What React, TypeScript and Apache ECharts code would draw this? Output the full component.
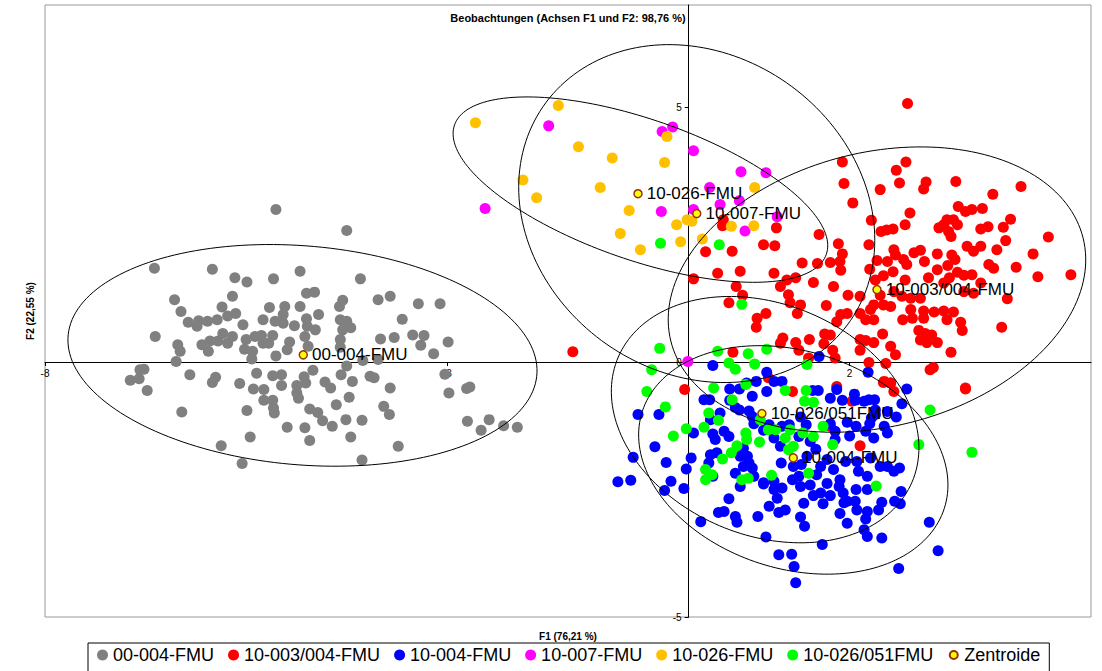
import React, { useEffect, useRef } from "react";
import * as echarts from "echarts";

const FONT = "'Liberation Sans', Arial, sans-serif";

const seriesNames = ["00-004-FMU", "10-003/004-FMU", "10-004-FMU", "10-007-FMU", "10-026-FMU", "10-026/051FMU"];
const seriesColors = ["#808080", "#FF0000", "#0000FF", "#FF00FF", "#FFC000", "#00FF00"];

const grayPoints = [
  [-5.13,2.99],[-4.25,2.58],[-6.64,1.84],[-5.92,1.82],[-5.64,1.65],[-5.49,1.57],[-5.16,1.63],[-4.83,1.78],[-4.08,1.63],
  [-6.39,1.22],[-6.31,0.99],[-5.67,1.29],[-5.80,1.08],[-5.73,0.90],[-5.63,0.95],[-6.22,0.78],[-6.09,0.81],[-6.11,0.70],
  [-5.98,0.80],[-5.86,0.83],[-5.54,0.73],[-5.21,1.07],[-5.02,1.09],[-5.04,0.93],[-4.83,1.09],[-4.75,1.35],[-4.65,1.37],
  [-5.29,0.83],[-5.14,0.80],[-5.04,0.76],[-4.90,0.71],[-4.75,0.85],[-4.74,0.70],[-4.64,0.63],[-4.60,0.93],[-4.30,1.21],
  [-4.34,1.09],[-4.33,0.83],[-4.25,0.80],[-4.20,0.67],[-4.30,0.63],[-3.86,1.22],[-3.71,1.29],[-3.56,0.84],[-3.36,1.14],
  [-3.09,1.14],[-6.63,0.50],[-6.35,0.34],[-6.32,0.21],[-6.37,0.01],[-6.05,0.34],[-5.97,0.21],[-5.95,0.41],[-5.85,0.41],
  [-5.79,0.56],[-5.73,0.37],[-5.67,0.50],[-5.50,0.44],[-5.52,0.25],[-5.42,0.21],[-5.43,0.06],[-5.39,0.50],[-5.31,0.52],
  [-5.29,0.37],[-5.22,0.37],[-5.17,0.52],[-5.13,0.12],[-4.99,0.24],[-4.96,0.39],[-4.77,0.50],[-4.73,0.31],[-4.33,0.44],
  [-4.33,0.29],[-4.05,0.03],[-3.86,0.05],[-3.83,0.45],[-3.66,0.48],[-3.43,0.53],[-3.29,0.52],[-3.33,0.33],[-3.17,0.16],
  [-2.99,0.39],[-6.82,-0.15],[-6.77,-0.14],[-6.94,-0.36],[-6.83,-0.33],[-6.73,-0.56],[-6.20,-0.25],[-5.92,-0.40],
  [-5.88,-0.30],[-5.58,-0.42],[-5.41,-0.53],[-5.37,-0.22],[-5.28,-0.54],[-5.17,-0.27],[-5.06,-0.25],[-5.06,-0.46],
  [-5.28,-0.75],[-5.17,-0.75],[-5.16,-0.90],[-5.15,-1.00],[-5.49,-0.95],[-5.45,-1.47],[-4.99,-1.28],[-6.30,-0.98],
  [-5.81,-1.64],[-5.55,-1.99],[-4.87,-0.46],[-4.78,-0.29],[-4.76,-0.41],[-4.67,-0.16],[-4.87,-0.61],[-4.85,-0.71],
  [-4.71,-0.92],[-4.61,-0.99],[-4.77,-1.29],[-4.71,-1.54],[-4.55,-1.15],[-4.43,-1.26],[-4.52,-0.39],[-4.45,-0.51],
  [-4.38,-0.84],[-4.32,-0.25],[-4.25,-0.08],[-4.18,-0.38],[-4.22,-0.69],[-4.26,-1.13],[-4.06,-1.14],[-4.20,-1.47],
  [-4.06,-1.92],[-3.96,-0.28],[-3.91,-0.31],[-3.71,-0.51],[-3.79,-0.87],[-3.72,-1.03],[-3.61,-1.65],[-3.03,-0.24],
  [-2.98,-0.61],[-2.76,-0.52],[-2.72,-0.49],[-2.75,-1.16],[-2.58,-1.34],[-2.48,-1.13],[-2.30,-1.25],[-2.13,-1.28]
];

const redPoints = [
  [2.72,5.07],[-1.44,0.20],[1.91,3.92],[2.70,3.92],[2.58,3.76],[2.95,3.53],[2.92,3.39],[2.62,3.51],[3.32,3.54],[2.38,3.38],
  [1.93,3.50],[4.13,3.44],[3.78,3.29],[2.04,3.12],[2.75,2.92],[3.35,3.05],[3.52,2.99],[3.65,3.01],[3.44,2.95],
  [3.21,2.79],[3.17,2.69],[3.11,2.63],[3.29,2.79],[3.34,2.69],[3.23,2.56],[3.26,2.46],[4.00,2.80],[3.91,2.64],
  [3.72,2.65],[3.63,2.61],[2.69,2.69],[2.54,2.61],[2.39,2.56],[2.46,2.59],[2.27,2.78],[4.47,2.45],[3.94,2.38],
  [3.83,2.20],[4.28,2.12],[3.46,2.27],[3.63,2.27],[3.54,2.17],[3.27,2.10],[3.31,2.01],[3.09,2.12],[2.88,2.19],
  [2.80,2.14],[2.55,2.20],[2.57,2.10],[2.24,2.30],[2.34,1.99],[2.47,1.97],[2.67,2.01],[2.71,1.91],[2.93,1.97],
  [3.22,1.89],[3.09,1.81],[3.34,1.76],[3.42,1.70],[3.52,1.71],[3.73,1.91],[3.79,1.84],[4.07,1.86],[4.34,1.67],
  [4.75,1.71],[2.25,1.82],[2.42,1.69],[2.54,1.77],[2.69,1.61],[2.32,1.61],[2.98,1.65],[3.17,1.55],[3.24,1.65],
  [3.63,1.55],[3.42,1.38],[3.54,1.35],[3.96,1.24],[3.89,0.68],[2.55,1.38],[2.65,1.29],[2.76,1.25],[2.88,1.25],
  [2.38,1.31],[2.30,1.12],[2.42,1.12],[2.51,1.09],[2.26,1.03],[2.13,1.29],[1.98,1.31],[1.80,1.48],[1.71,1.11],
  [1.89,0.93],[1.97,0.95],[2.13,0.95],[2.20,0.83],[2.30,0.83],[1.84,0.79],[2.76,1.03],[2.66,0.83],[2.78,0.86],
  [2.92,1.00],[2.92,0.86],[3.05,0.98],[3.17,1.00],[3.29,0.98],[3.21,0.83],[3.38,0.78],[3.40,0.62],[2.86,0.62],
  [2.94,0.56],[3.02,0.53],[2.88,0.43],[2.96,0.38],[3.09,0.38],[3.26,0.19],[2.41,0.55],[2.51,0.31],[2.57,0.14],
  [2.45,-0.03],[2.24,-0.01],[2.13,0.44],[2.20,0.42],[2.30,0.38],[2.13,0.23],[1.69,0.55],[1.76,0.53],[1.68,0.36],
  [1.79,0.23],[1.82,0.08],[1.50,0.44],[1.33,0.38],[1.37,0.23],[1.49,0.08],[1.14,0.37],[1.17,0.47],[3.00,-0.15],
  [3.04,-0.11],[3.44,-0.51],[2.43,-0.38],[2.51,-0.41],[1.86,2.32],[1.91,2.12],[1.88,1.97],[1.89,1.80],[1.76,1.95],
  [1.62,2.50],[1.60,1.93],[1.41,1.94],[1.55,1.56],[1.33,1.65],[1.22,1.61],[1.14,1.48],[1.24,1.32],[1.26,1.16],
  [1.39,1.12],[1.35,0.95],[1.06,1.74],[1.09,2.63],[1.07,2.28],[0.93,2.30],[0.64,1.78],[0.36,1.74],[0.54,2.17],
  [0.21,2.16],[0.06,1.63],[0.59,1.48],[0.67,1.31],[0.50,1.16],[0.85,0.86],[0.96,0.95],[0.84,0.68],[0.42,2.67],
  [0.43,2.79],[0.55,0.19],[0.99,-0.31],[-0.05,-0.54],[1.29,-0.58],[1.84,-0.48],[2.03,-0.77],[1.76,-1.26],
  [2.13,-1.64],[2.42,-0.40],[2.51,-0.41],[2.55,-0.58],[3.44,-0.53]
];

const bluePoints = [
  [0.30,-0.07],[0.97,-0.20],[1.06,-0.38],[1.16,-0.38],[0.84,-0.38],[0.72,-0.41],[0.63,-0.53],[0.51,-0.53],[0.79,-0.67],
  [0.97,-0.58],[1.62,0.11],[1.54,-0.56],[1.61,-0.56],[1.84,-0.54],[1.76,-0.71],[1.91,-0.75],[2.06,-0.63],[2.07,-0.75],
  [2.18,-0.77],[2.24,-0.74],[2.31,-0.74],[2.23,-0.20],[2.71,-0.53],[2.65,-0.82],[0.19,-0.74],[0.26,-0.74],[0.51,-0.75],
  [0.58,-0.89],[0.63,-0.94],[0.75,-0.96],[0.39,-1.00],[0.27,-1.13],[-0.37,-1.03],[-0.63,-1.03],[0.06,-1.39],
  [-0.42,-1.66],[-0.69,-1.87],[-0.88,-2.35],[-0.72,-2.32],[-0.28,-1.97],[0.03,-1.88],[-0.03,-2.10],[-0.22,-2.34],
  [-0.30,-2.52],[-0.06,-2.48],[0.30,-1.41],[0.33,-1.52],[0.44,-1.36],[0.50,-1.46],[0.27,-1.82],[0.35,-1.78],
  [0.25,-1.98],[0.30,-2.24],[0.58,-2.18],[0.68,-1.69],[0.64,-1.85],[0.73,-1.85],[0.75,-1.98],[0.79,-2.08],
  [0.68,-2.05],[0.81,-2.24],[0.64,-2.44],[0.93,-2.37],[0.81,-1.21],[0.93,-1.34],[1.00,-1.23],[1.16,-1.26],
  [1.06,-1.49],[1.14,-1.65],[1.37,-1.46],[1.46,-1.23],[1.39,-1.08],[1.51,-1.56],[1.58,-1.71],[1.47,-1.85],
  [1.40,-2.01],[1.30,-2.05],[1.29,-2.31],[1.39,-2.44],[1.51,-2.41],[1.64,-2.05],[1.72,-1.91],[1.82,-1.52],
  [1.82,-1.36],[1.76,-1.21],[1.97,-1.18],[2.08,-1.26],[2.20,-1.36],[2.30,-1.49],[2.25,-1.21],[2.43,-1.26],
  [2.47,-1.39],[2.27,-1.10],[2.32,-1.03],[2.32,-0.94],[2.47,-0.97],[2.58,-1.08],[2.00,-1.45],[2.26,-1.88],
  [2.38,-2.05],[2.47,-2.05],[2.55,-2.14],[2.62,-2.08],[2.22,-2.24],[2.11,-2.14],[1.80,-2.11],[1.88,-2.31],
  [1.87,-2.44],[1.72,-2.38],[1.64,-2.57],[1.55,-2.62],[1.76,-2.62],[1.92,-2.57],[1.97,-2.73],[1.93,-2.76],
  [2.08,-2.50],[2.22,-2.50],[2.07,-2.73],[2.09,-2.90],[2.22,-2.93],[2.20,-3.08],[2.36,-2.90],[2.40,-2.75],
  [2.56,-2.73],[2.63,-2.78],[2.64,-2.54],[1.97,-3.16],[1.88,-2.97],[2.18,-3.29],[2.22,-3.42],[2.40,-3.45],
  [2.61,-4.05],[2.99,-3.14],[3.10,-3.70],[1.66,-3.58],[1.28,-3.77],[1.12,-3.78],[1.31,-4.01],[1.33,-4.33],
  [0.96,-3.43],[0.86,-3.03],[1.12,-2.95],[1.20,-2.90],[1.00,-2.83],[1.10,-2.67],[1.06,-2.50],[1.16,-2.47],
  [0.93,-2.39],[1.39,-3.04],[1.44,-3.22],[1.43,-2.77],[1.67,-2.78],[0.50,-2.68],[0.37,-2.95],[0.44,-2.93],
  [0.58,-3.03],[0.60,-3.14],[0.15,-3.13],[1.25,-1.23],[0.79,-1.07],[1.59,-2.21],[1.37,-2.24],[1.15,-1.98],
  [1.06,-2.34],[2.09,-1.95],[1.95,-1.95]
];

const magentaPoints = [
  [-2.53,3.01],[-1.74,4.63],[-0.33,4.52],[-0.20,4.61],[0.06,4.14],[0.26,3.42],[0.65,3.73],[0.96,3.71],
  [-0.34,2.95],[0.39,3.09],[0.63,3.16],[0.06,2.99],[0.70,2.57],[1.10,2.85],[-0.01,0.01]
];

const yellowPoints = [
  [-2.65,4.69],[-1.62,5.03],[-1.37,4.22],[-0.95,4.00],[-0.27,4.42],[-0.30,3.91],[-2.06,3.57],[-1.89,3.22],
  [-1.10,3.42],[-0.74,2.97],[-0.85,2.52],[-0.60,2.20],[-0.15,2.69],[-0.10,2.36],[-0.02,2.79],[0.04,2.76],
  [0.17,2.41],[0.53,2.66],[0.81,2.67],[0.82,3.42]
];

const greenPoints = [
  [-0.36,0.27],[-0.46,-0.15],[-0.52,-0.58],[-0.29,-0.88],[-0.19,-1.45],[-0.03,-1.31],[0.19,-1.28],[0.25,-1.00],
  [0.37,-1.14],[0.36,0.21],[0.50,-0.02],[0.58,-0.14],[0.74,0.16],[0.82,-0.04],[0.97,0.25],[0.71,-0.44],
  [0.31,-0.51],[0.54,-0.74],[1.20,-0.56],[1.47,-0.05],[1.46,-0.56],[1.44,-0.77],[1.55,-0.79],[0.89,-1.13],
  [0.99,-1.33],[1.08,-1.33],[1.26,-1.33],[1.20,-1.49],[1.42,-1.39],[1.55,-1.46],[1.67,-1.26],[1.30,-1.65],
  [1.24,-1.72],[1.79,-1.62],[1.49,-2.18],[1.03,-2.22],[0.71,-1.39],[0.72,-1.52],[0.88,-1.57],[0.60,-1.64],
  [0.53,-1.78],[0.42,-1.90],[0.21,-2.11],[0.29,-2.21],[0.21,-2.31],[0.66,-2.31],[0.74,-2.28],[2.33,-2.43],
  [2.86,-1.62],[3.00,-0.94],[3.52,-1.77],[0.38,2.30],[-0.35,2.33],[0.66,1.13]
];

const centroidNames = ["00-004-FMU", "10-003/004-FMU", "10-004-FMU", "10-007-FMU", "10-026-FMU", "10-026/051FMU"];
const centroidX = [-4.79, 2.34, 1.30, 0.10, -0.63, 0.91];
const centroidY = [0.14, 1.42, -1.88, 2.91, 3.30, -1.01];

// confidence ellipses: centre and two conjugate semi-axis vectors (data units)
const ellipseCenter = [[-4.80, 0.13], [2.34, 1.42], [1.30, -1.92], [0.10, 2.91], [-0.60, 3.38], [0.95, -1.13]];
const ellipseU = [[2.88, -0.63], [1.70, 2.45], [1.89, -0.88], [0.60, -3.29], [2.31, -1.27], [1.86, -1.08]];
const ellipseV = [[0.45, 2.08], [-1.96, 1.35], [-0.35, -2.06], [2.13, 0.39], [-0.29, -1.30], [-0.44, -2.16]];

const xTicks = { min: -8, max: 5, interval: 5 };
const yTicks = { min: -5, max: 7, interval: 5 };

const GRID = { left: 45, right: 11, top: 5, bottom: 54 };
const W = 1102, H = 671;

// small centroid marker inside an 11x11 legend box (corner moves keep the box size)
const CENTROID_ICON = "path://M0 0M11 11M9.5 5.5A4 4 0 1 1 1.5 5.5A4 4 0 1 1 9.5 5.5Z";

export default function App() {
  const ref = useRef<HTMLDivElement>(null);
  useEffect(() => {
    document.body.style.margin = "0";
    if (!ref.current) return;
    const chart = echarts.init(ref.current, null, { renderer: "svg" });
    const groups = [grayPoints, redPoints, bluePoints, magentaPoints, yellowPoints, greenPoints];
    const scatterSeries = groups.map((pts, i) => ({
      name: seriesNames[i],
      type: "scatter",
      data: pts,
      symbol: "circle",
      symbolSize: 11,
      itemStyle: { color: seriesColors[i], opacity: 1 },
      silent: true,
      z: 2,
    }));
    const ellipseData = ellipseCenter.map((c, i) => [c[0], c[1], ellipseU[i][0], ellipseU[i][1], ellipseV[i][0], ellipseV[i][1]]);
    const gw = W - GRID.left - GRID.right;
    const gh = H - GRID.top - GRID.bottom;
    const xZeroPx = (0 - xTicks.min) / (xTicks.max - xTicks.min) * gw;
    const yZeroPx = (0 - yTicks.min) / (yTicks.max - yTicks.min) * gh;
    const option: any = {
      animation: false,
      textStyle: { fontFamily: FONT },
      grid: { ...GRID, show: true, borderColor: "#999", borderWidth: 1, backgroundColor: "#fff" },
      xAxis: {
        type: "value", min: xTicks.min, max: xTicks.max, interval: xTicks.interval,
        offset: -yZeroPx,
        axisLine: { onZero: false, lineStyle: { color: "#000", width: 1 } },
        axisTick: { show: true, inside: false, length: 4, lineStyle: { color: "#000" } },
        axisLabel: { color: "#000", fontSize: 10, margin: 6, fontFamily: FONT, showMaxLabel: false },
        splitLine: { show: false },
      },
      yAxis: {
        type: "value", min: yTicks.min, max: yTicks.max, interval: yTicks.interval,
        offset: -xZeroPx,
        axisLine: { onZero: false, lineStyle: { color: "#000", width: 1 } },
        axisTick: { show: true, inside: false, length: 4, lineStyle: { color: "#000" } },
        axisLabel: { color: "#000", fontSize: 10, margin: 7, fontFamily: FONT, showMaxLabel: false },
        splitLine: { show: false },
      },
      legend: {
        left: 88, top: 643,
        data: [...seriesNames.map((n) => ({ name: n, icon: "circle" })), { name: "Zentroide", icon: CENTROID_ICON }],
        itemWidth: 11, itemHeight: 11, itemGap: 14,
        borderColor: "#000", borderWidth: 1, padding: [3, 9, 10, 9],
        textStyle: { fontSize: 18, color: "#000", fontFamily: FONT },
      },
      graphic: [
        { type: "text", x: 568, y: 18, style: { text: "Beobachtungen (Achsen F1 und F2: 98,76 %)", font: `bold 11px ${FONT}`, fill: "#000", textAlign: "center", textVerticalAlign: "middle" } },
        { type: "text", x: 568, y: 636, style: { text: "F1 (76,21 %)", font: `bold 10px ${FONT}`, fill: "#000", textAlign: "center", textVerticalAlign: "middle" } },
        { type: "text", x: 30, y: 311, rotation: Math.PI / 2, style: { text: "F2 (22,55 %)", font: `bold 10px ${FONT}`, fill: "#000", textAlign: "center", textVerticalAlign: "middle" } },
      ],
      series: [
        ...scatterSeries,
        {
          name: "Zentroide",
          type: "scatter",
          data: centroidNames.map((n, i) => ({ name: n, value: [centroidX[i], centroidY[i]] })),
          symbol: "circle",
          symbolSize: 8,
          itemStyle: { color: "#FFFF00", borderColor: "#993300", borderWidth: 1.5, opacity: 1 },
          label: { show: true, position: "right", distance: 4, formatter: "{b}", fontSize: 17, color: "#000", fontFamily: FONT },
          z: 5,
        },
        {
          name: "ellipses",
          type: "custom",
          data: ellipseData,
          encode: { x: 0, y: 1 },
          clip: true,
          silent: true,
          z: 4,
          renderItem: (params: any, api: any) => {
            const cx = api.value(0), cy = api.value(1);
            const ux = api.value(2), uy = api.value(3), vx = api.value(4), vy = api.value(5);
            const pts: number[][] = [];
            for (let k = 0; k <= 180; k++) {
              const t = (k / 180) * Math.PI * 2;
              const c = Math.cos(t), s = Math.sin(t);
              pts.push(api.coord([cx + ux * c + vx * s, cy + uy * c + vy * s]));
            }
            return { type: "polyline", shape: { points: pts }, style: { fill: "none", stroke: "#000", lineWidth: 1 } };
          },
        },
      ],
    };
    chart.setOption(option);
    return () => chart.dispose();
  }, []);
  return <div ref={ref} style={{ width: W, height: H }} />;
}
